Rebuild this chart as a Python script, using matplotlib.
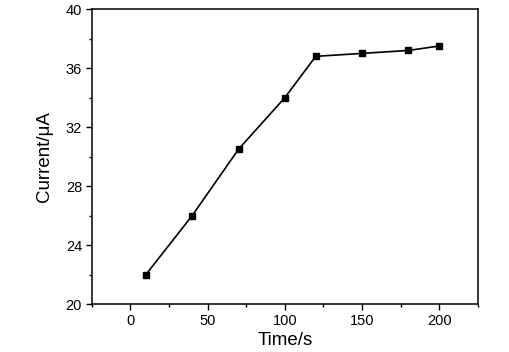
import matplotlib
matplotlib.use('Agg')
import matplotlib.pyplot as plt
from matplotlib.ticker import MultipleLocator

# values
time_s = [10, 40, 70, 100, 120, 150, 180, 200]
current_uA = [22.0, 26.0, 30.5, 34.0, 36.8, 37.0, 37.2, 37.5]

plt.rcParams['font.family'] = ['Liberation Sans', 'DejaVu Sans']

fig = plt.figure(figsize=(5.1, 3.52), dpi=100)
ax = fig.add_axes([0.180, 0.136, 0.757, 0.838])

ax.plot(time_s, current_uA, color='black', lw=1.2, marker='s', ms=4)

ax.set_xlim(-25, 225)
ax.set_ylim(20, 40)
ax.xaxis.set_major_locator(MultipleLocator(50))
ax.xaxis.set_minor_locator(MultipleLocator(25))
ax.yaxis.set_major_locator(MultipleLocator(4))
ax.yaxis.set_minor_locator(MultipleLocator(2))

ax.tick_params(which='both', direction='out', top=False, right=False, labelsize=10.5, width=1)
ax.tick_params(which='major', length=4, pad=3)
ax.tick_params(which='minor', length=2.5)
for s in ax.spines.values():
    s.set_linewidth(1.1)

ax.set_xlabel('Time/s', fontsize=13.5, labelpad=3)
ax.set_ylabel('Current/\u03bcA', fontsize=13.5, labelpad=9)

fig.savefig('out.png', dpi=100)
